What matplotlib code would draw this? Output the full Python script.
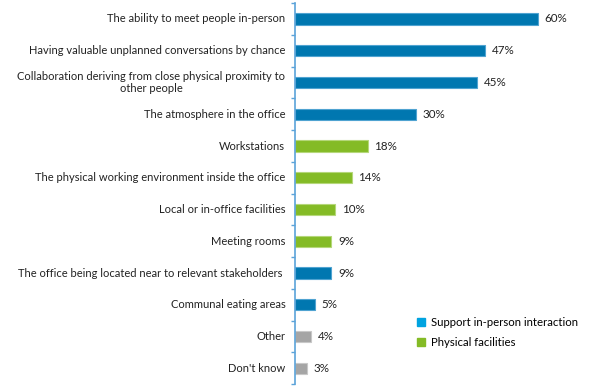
import matplotlib
matplotlib.use("Agg")
import matplotlib.pyplot as plt
from matplotlib.patches import Patch
from matplotlib.transforms import offset_copy

plt.rcParams['font.family'] = ['Lato', 'DejaVu Sans']

categories = [
    "The ability to meet people in-person",
    "Having valuable unplanned conversations by chance",
    "Collaboration deriving from close physical proximity to\nother people",
    "The atmosphere in the office",
    "Workstations",
    "The physical working environment inside the office",
    "Local or in-office facilities",
    "Meeting rooms",
    "The office being located near to relevant stakeholders ",
    "Communal eating areas",
    "Other",
    "Don't know",
]
values = [60, 47, 45, 30, 18, 14, 10, 9, 9, 5, 4, 3]
groups = ["interaction", "interaction", "interaction", "interaction",
          "physical", "physical", "physical", "physical",
          "interaction", "interaction", "other", "other"]
legend_labels = ["Support in-person interaction", "Physical facilities"]

bar_colors = {"interaction": "#0077B0", "physical": "#84BB26", "other": "#A5A5A5"}
edge_colors = {"interaction": "#4FA3D1", "physical": "#B5D77A", "other": "#C8C8C8"}
legend_colors = ["#00A3E0", "#84BB26"]
spine_color = "#5BA3D9"

fig = plt.figure(figsize=(6.02, 3.90), dpi=100)
ax = fig.add_axes([0.490, 0.015, 0.484, 0.977])

ypos = list(range(len(categories)))
ax.barh(ypos, values, height=0.36,
        color=[bar_colors[g] for g in groups],
        edgecolor=[edge_colors[g] for g in groups], linewidth=0.8)
for y, v in zip(ypos, values):
    ax.text(v + 1.6, y, f"{v}%", va="center", ha="left", fontsize=8.4, color="#222222")

ax.set_ylim(len(categories) - 0.5, -0.5)
ax.set_xlim(0, 72)
ax.set_yticks(ypos)
ax.set_yticklabels([])
ax.tick_params(axis="y", which="major", length=0)

label_kw = dict(fontsize=8.0, color="#222222")
trans = ax.get_yaxis_transform()
fig.canvas.draw()
renderer = fig.canvas.get_renderer()
for y, cat in zip(ypos, categories):
    lines = cat.split("\n")
    if len(lines) == 1:
        ax.text(0, y, cat, transform=offset_copy(trans, fig=fig, x=-7, y=0, units="points"),
                ha="right", va="center", **label_kw)
    else:
        t1 = ax.text(0, y, lines[0],
                     transform=offset_copy(trans, fig=fig, x=-7, y=0.5, units="points"),
                     ha="right", va="bottom", **label_kw)
        bb = t1.get_window_extent(renderer)
        cx_pts = ((bb.x0 + bb.x1) / 2 - ax.transAxes.transform((0, 0))[0]) * 72 / fig.dpi
        ax.text(0, y, lines[1],
                transform=offset_copy(trans, fig=fig, x=cx_pts, y=-0.5, units="points"),
                ha="center", va="top", **label_kw)

ax.set_yticks([i + 0.5 for i in range(-1, len(categories))], minor=True)
ax.tick_params(axis="y", which="minor", length=3, color=spine_color, direction="out", width=1)
ax.set_xticks([])
for s in ["top", "right", "bottom"]:
    ax.spines[s].set_visible(False)
ax.spines["left"].set_color(spine_color)
ax.spines["left"].set_linewidth(1.2)

handles = [Patch(facecolor=c, edgecolor=c) for c in legend_colors]
fig.legend(handles, legend_labels, loc="upper left", bbox_to_anchor=(0.675, 0.213),
           frameon=False, fontsize=8.2, handlelength=0.75, handleheight=0.75,
           handletextpad=0.5, labelspacing=0.8)

fig.savefig("out.png", dpi=100)
